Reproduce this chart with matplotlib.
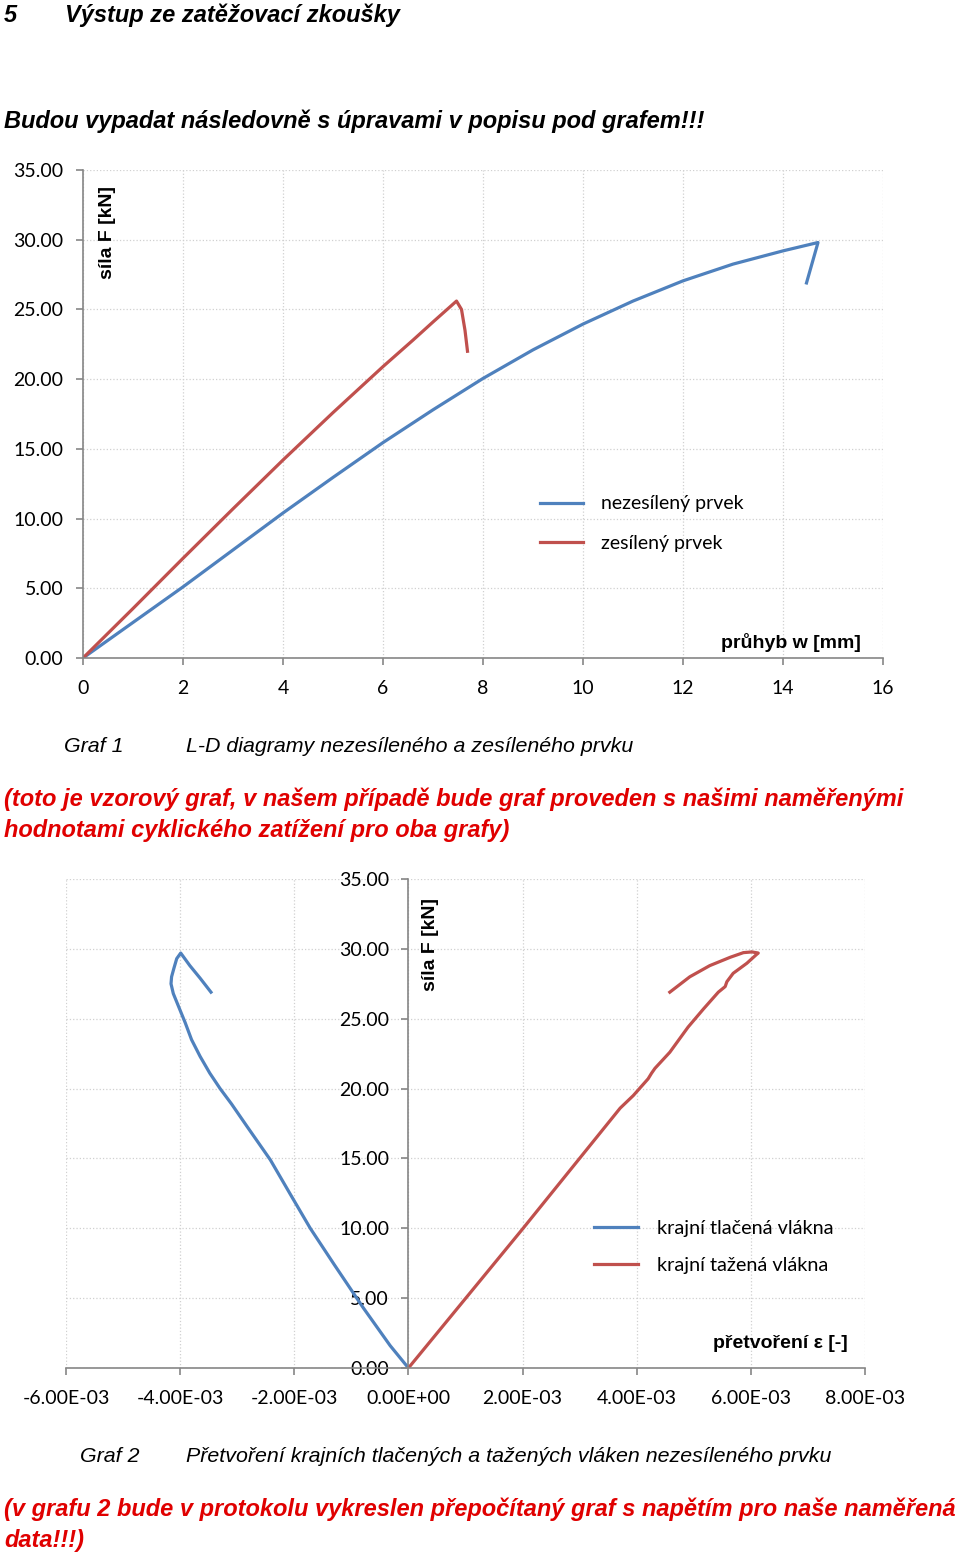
import matplotlib
matplotlib.use('Agg')
from matplotlib import pyplot as plt
from matplotlib.ticker import FixedLocator, FuncFormatter

# Graf 1 - L-D diagram
w_nez = [0, 1, 2, 3, 4, 5, 6, 7, 8, 9, 10, 11, 12, 13, 14, 14.7, 14.47]
F_nez = [0, 2.55, 5.1, 7.75, 10.4, 12.95, 15.45, 17.8, 20.05, 22.1, 23.95, 25.6, 27.05, 28.25, 29.2, 29.8, 26.9]
w_zes = [0, 1, 2, 3, 4, 5, 6, 6.6, 7, 7.47, 7.57, 7.64, 7.69]
F_zes = [0, 3.55, 7.15, 10.7, 14.2, 17.6, 20.9, 22.8, 24.1, 25.6, 25.0, 23.5, 22.0]
x1_ticks = [0, 2, 4, 6, 8, 10, 12, 14, 16]
y_ticks = [0, 5, 10, 15, 20, 25, 30, 35]
labels1 = ['nezesílený prvek', 'zesílený prvek']

# Graf 2 - pretvoreni
eps_tl = [0, -0.32e-3, -0.79e-3, -1.30e-3, -1.72e-3, -2.05e-3, -2.42e-3, -2.83e-3, -3.10e-3, -3.30e-3,
          -3.48e-3, -3.65e-3, -3.80e-3, -3.91e-3, -4.03e-3, -4.12e-3, -4.16e-3, -4.15e-3, -4.11e-3,
          -4.06e-3, -3.99e-3, -3.83e-3, -3.65e-3, -3.46e-3]
F_tl = [0, 1.6, 4.3, 7.4, 10.0, 12.3, 14.9, 17.3, 18.9, 20.0,
        21.1, 22.3, 23.5, 24.7, 25.9, 26.8, 27.5, 28.0, 28.6,
        29.3, 29.7, 28.8, 27.9, 26.9]
eps_ta = [0, 2.01e-3, 3.71e-3, 3.94e-3, 4.20e-3, 4.26e-3, 4.32e-3, 4.58e-3, 4.90e-3, 5.17e-3, 5.43e-3,
          5.55e-3, 5.58e-3, 5.69e-3, 5.93e-3, 6.10e-3, 6.13e-3, 6.02e-3, 5.87e-3, 5.64e-3, 5.28e-3,
          4.93e-3, 4.58e-3]
F_ta = [0, 10.0, 18.6, 19.5, 20.7, 21.1, 21.45, 22.6, 24.4, 25.7, 26.9,
        27.3, 27.65, 28.25, 28.97, 29.6, 29.7, 29.78, 29.73, 29.4, 28.8,
        28.0, 26.9]
x2_ticks = [-6e-3, -4e-3, -2e-3, 0, 2e-3, 4e-3, 6e-3, 8e-3]
labels2 = ['krajní tlačená vlákna', 'krajní tažená vlákna']

BLUE = '#4F81BD'
RED = '#C0504D'
GRAY = '#868686'
TXT = 'Liberation Sans'
TICKF = 'Lato'

W, H = 960, 1555
fig = plt.figure(figsize=(W / 100, H / 100), dpi=100)


def fy(py):
    # pixel od horniho okraje -> souradnice obrazku
    return 1 - py / H


def style_axes(ax):
    for s in ['top', 'right']:
        ax.spines[s].set_visible(False)
    for s in ['left', 'bottom']:
        ax.spines[s].set_color(GRAY)
        ax.spines[s].set_linewidth(1.2)
    ax.grid(True, linestyle=':', color='#D0D0D0', linewidth=0.9)
    ax.set_axisbelow(True)
    ax.tick_params(direction='out', length=5, width=1.2, color=GRAY, pad=9, labelsize=14)
    ax.tick_params(axis='x', pad=10.5)
    for lab in ax.get_xticklabels() + ax.get_yticklabels():
        lab.set_fontfamily(TICKF)


# ---- graf 1
ax1 = fig.add_axes([83 / W, fy(658), 800 / W, 488 / H])
ax1.plot(w_nez, F_nez, color=BLUE, lw=2.3, label=labels1[0])
ax1.plot(w_zes, F_zes, color=RED, lw=2.3, label=labels1[1])
ax1.set_xlim(0, 16)
ax1.set_ylim(0, 35)
ax1.xaxis.set_major_locator(FixedLocator(x1_ticks))
ax1.yaxis.set_major_locator(FixedLocator(y_ticks))
ax1.yaxis.set_major_formatter(FuncFormatter(lambda v, p: f'{v:.2f}'))
ax1.xaxis.set_major_formatter(FuncFormatter(lambda v, p: f'{v:.0f}'))
style_axes(ax1)
ax1.text(0.031, 0.871, 'síla F [kN]', rotation=90, transform=ax1.transAxes, ha='center', va='center',
         fontsize=14, fontweight='bold', family=TXT)
ax1.text(0.9725, 0.031, 'průhyb w [mm]', transform=ax1.transAxes, ha='right', va='center',
         fontsize=14, fontweight='bold', family=TXT)
ax1.legend(loc='upper left', bbox_to_anchor=(0.571, 0.333), frameon=False, borderpad=0, borderaxespad=0,
           handlelength=2.2, handletextpad=0.95, labelspacing=1.15, prop={'family': TICKF, 'size': 14})

# ---- graf 2
ax2 = fig.add_axes([66 / W, fy(1368), 799 / W, 489 / H])
ax2.plot(eps_tl, F_tl, color=BLUE, lw=2.3, label=labels2[0])
ax2.plot(eps_ta, F_ta, color=RED, lw=2.3, label=labels2[1])
ax2.set_xlim(-6e-3, 8e-3)
ax2.set_ylim(0, 35)
ax2.spines['left'].set_position(('data', 0))
ax2.xaxis.set_major_locator(FixedLocator(x2_ticks))
ax2.yaxis.set_major_locator(FixedLocator(y_ticks))
ax2.yaxis.set_major_formatter(FuncFormatter(lambda v, p: f'{v:.2f}'))
ax2.xaxis.set_major_formatter(FuncFormatter(lambda v, p: f'{0 if abs(v) < 1e-12 else v:.2E}'))
style_axes(ax2)
ax2.text(0.4556, 0.867, 'síla F [kN]', rotation=90, transform=ax2.transAxes, ha='center', va='center',
         fontsize=14, fontweight='bold', family=TXT)
ax2.text(0.9787, 0.051, 'přetvoření ε [-]', transform=ax2.transAxes, ha='right', va='center',
         fontsize=14, fontweight='bold', family=TXT)
ax2.legend(loc='upper left', bbox_to_anchor=(0.661, 0.302), frameon=False, borderpad=0, borderaxespad=0,
           handlelength=2.2, handletextpad=0.95, labelspacing=1.0, prop={'family': TICKF, 'size': 14.3})

# ---- texty
bi = dict(family=TXT, fontweight='bold', fontstyle='italic', va='center', fontsize=17)
it = dict(family=TXT, fontstyle='italic', va='center', fontsize=15.4)
red = '#E00000'
fig.text(4 / W, fy(15), '5', **bi)
fig.text(65 / W, fy(15), 'Výstup ze zatěžovací zkoušky', **bi)
fig.text(4 / W, fy(121), 'Budou vypadat následovně s úpravami v popisu pod grafem!!!', **bi)
fig.text(64 / W, fy(746), 'Graf 1', **it)
fig.text(186 / W, fy(746), 'L-D diagramy nezesíleného a zesíleného prvku', **it)
fig.text(4 / W, fy(799), '(toto je vzorový graf, v našem případě bude graf proveden s našimi naměřenými',
         color=red, **bi)
fig.text(4 / W, fy(830), 'hodnotami cyklického zatížení pro oba grafy)', color=red, **bi)
fig.text(80 / W, fy(1456), 'Graf 2', **it)
fig.text(186 / W, fy(1456), 'Přetvoření krajních tlačených a tažených vláken nezesíleného prvku', **it)
fig.text(4 / W, fy(1509), '(v grafu 2 bude v protokolu vykreslen přepočítaný graf s napětím pro naše naměřená',
         color=red, **bi)
fig.text(4 / W, fy(1540), 'data!!!)', color=red, **bi)

fig.savefig('out.png', dpi=100)
